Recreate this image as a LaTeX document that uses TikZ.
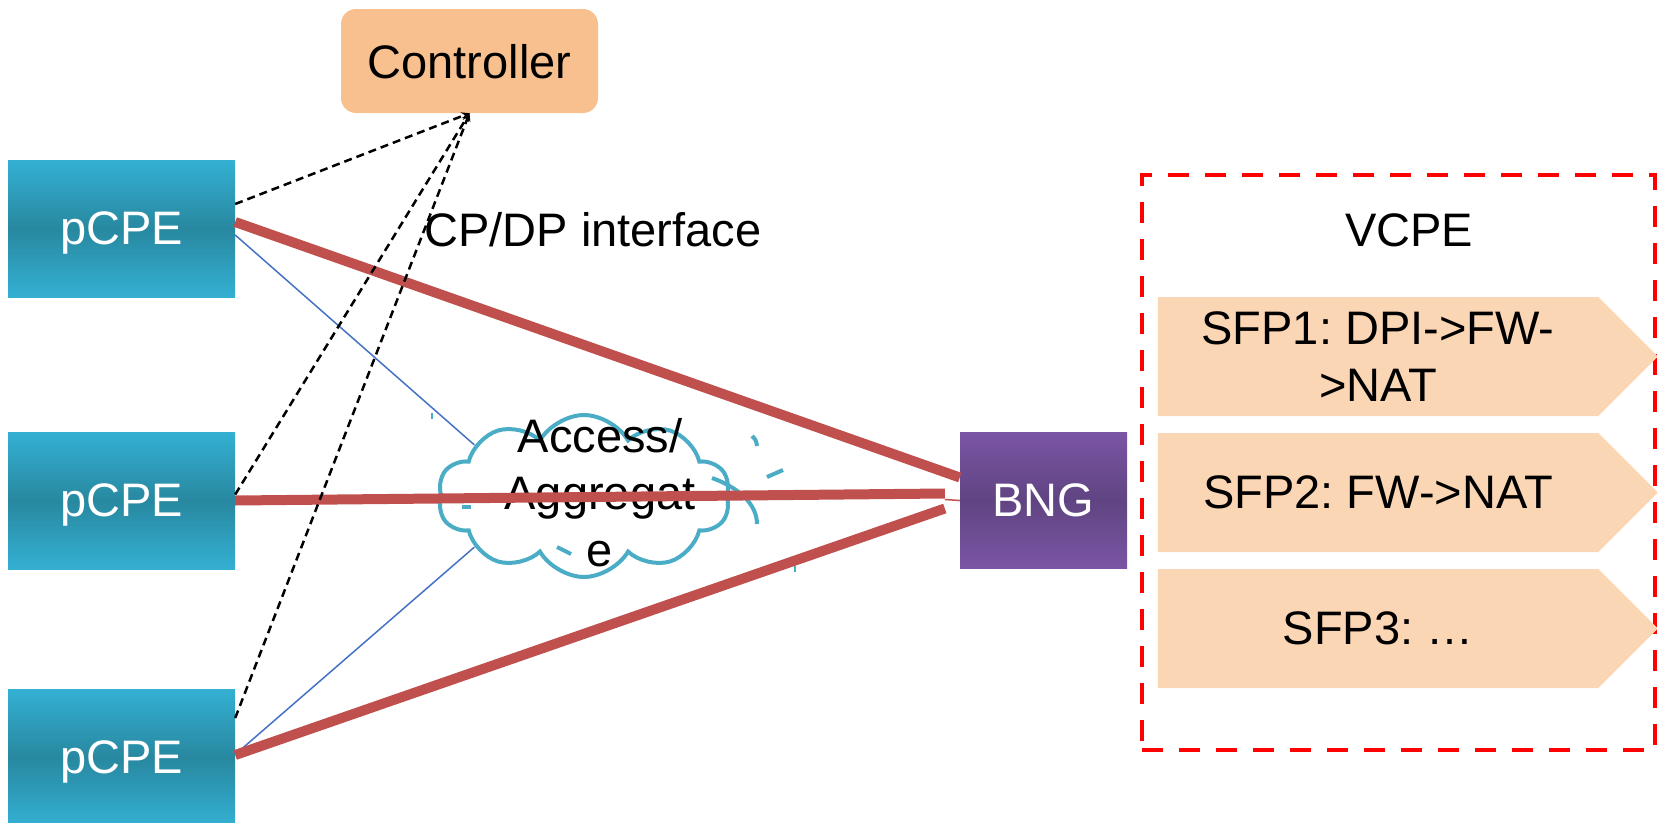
\documentclass[tikz,border=0pt]{standalone}
\usepackage{fontspec}
\setmainfont{Liberation Sans}
\usetikzlibrary{shapes.symbols,positioning}
\frenchspacing

\definecolor{cpelight}{RGB}{52,176,211}
\definecolor{cpedark}{RGB}{40,136,160}
\definecolor{bnglight}{RGB}{123,85,165}
\definecolor{bngdark}{RGB}{96,68,130}
\definecolor{ctrlorange}{RGB}{249,192,143}
\definecolor{sfppeach}{RGB}{251,214,181}
\definecolor{trunkred}{RGB}{192,80,77}
\definecolor{accblue}{RGB}{68,114,196}
\definecolor{aggblue}{RGB}{75,172,198}

\tikzstyle{cpe} = [rectangle, minimum width=227pt, minimum height=137pt, text depth=0pt, top color=cpelight, bottom color=cpelight, middle color=cpedark, text=white]
\tikzstyle{bng} = [rectangle, minimum width=167pt, minimum height=136pt, top color=bnglight, bottom color=bnglight, middle color=bngdark, text=white]
\tikzstyle{ctrl} = [rectangle, rounded corners=15pt, fill=ctrlorange, minimum width=257pt, minimum height=104pt, text depth=0pt]
\tikzstyle{sfp} = [signal, signal to=east, signal pointer angle=90, fill=sfppeach, minimum width=500pt, minimum height=119pt, inner sep=0pt, align=center]
\tikzstyle{vbox} = [rectangle, draw=red, line width=4pt, dash pattern=on 21pt off 16pt, minimum width=513pt, minimum height=575pt]
\tikzstyle{agg} = [cloud, cloud puffs=10, cloud puff arc=120, aspect=1.8, draw=aggblue, line width=4pt, minimum width=292pt, minimum height=162pt]
\tikzstyle{trunk} = [color=trunkred, line width=10pt]
\tikzstyle{cpdp} = [color=black, line width=2.5pt, dash pattern=on 8pt off 5pt]
\tikzstyle{acc} = [color=accblue, line width=1.5pt]
\tikzstyle{aggmark} = [color=aggblue, line width=4pt]

\begin{document}
\begin{tikzpicture}[auto,>=stealth,x=1pt,y=1pt,font=\fontsize{47pt}{57pt}\selectfont]
\useasboundingbox (0,0) rectangle (1657,-822);

\node[cpe] (p1) at (121.5,-228.5) {pCPE};
\node[cpe,below of=p1,node distance=272pt] (p2) {pCPE};
\node[cpe,below of=p2,node distance=257pt] (p3) {pCPE};
\node[bng,right of=p2,node distance=922pt] (bng) {BNG};
\node[ctrl] (ctrl) at (469.5,-61) {Controller};
\node (ifc) at (593,-230) {CP/DP interface};

\node[vbox] (vcpe) at (1398.5,-462.5) {};
\node (vlabel) at (1409,-230) {VCPE};
\node[sfp] (sfp1) at (1378,-356.5) {SFP1: DPI->FW-\\>NAT};
\node[sfp,below of=sfp1,node distance=136pt] (sfp2) {SFP2: FW->NAT};
\node[sfp,below of=sfp2,node distance=136pt] (sfp3) {SFP3: …};

\node[agg] (agg) at (584,-496) {};

% access links into the cloud
\draw[acc] ([yshift=-6.5pt]p1.east) -- (agg.155);
\draw[acc] (p2.east) -- (agg.180);
\draw[acc] ([yshift=3pt]p3.east) -- (agg.205);

\draw[aggmark] (712,-478) .. controls (740,-488) and (757,-505) .. (757,-524);
\draw[aggmark] (752,-436) .. controls (756,-440) .. (757,-446);
\draw[aggmark] (767,-477) -- (783,-470);
\draw[aggmark] (462,-507) -- (471,-507);
\draw[aggmark] (557,-547) -- (571,-554);
\draw[aggmark,line width=1.5pt] (432,-413) -- (432,-419);
\draw[aggmark,line width=1.5pt] (795,-566) -- (795,-572);
\node[align=center] (aggtext) at (600,-493) {Access/\\Aggregat\\e};

% data plane
\draw[trunk] ([yshift=6.5pt]p1.east) -- ([yshift=23pt]bng.west);
\draw[trunk] (p2.east) -- ([xshift=-15pt,yshift=7pt]bng.west);
\draw[trunk,line width=1.5pt] ([xshift=-15pt,yshift=1pt]bng.west) -- (bng.west);
\draw[trunk] ([yshift=2.5pt]p3.east) -- ([xshift=-15pt,yshift=-8pt]bng.west);

% control plane
\draw[cpdp,->] ([yshift=24.5pt]p1.east) -- (ctrl.south);
\draw[cpdp,->] ([yshift=6pt]p2.east) -- (ctrl.south);
\draw[cpdp,->] ([yshift=39.5pt]p3.east) -- (ctrl.south);

\end{tikzpicture}
\end{document}
